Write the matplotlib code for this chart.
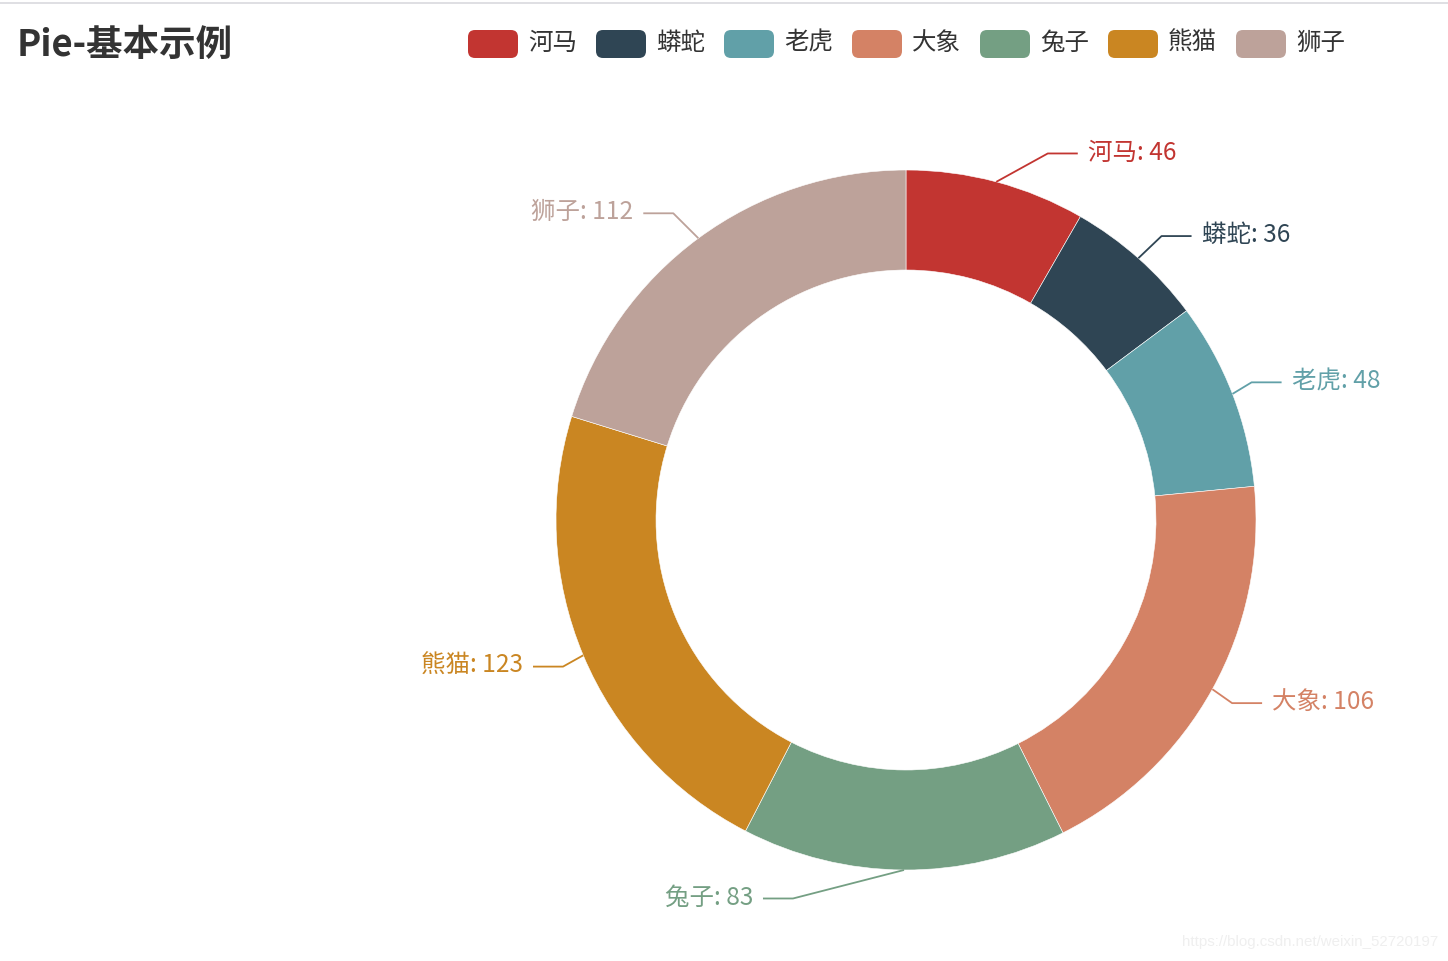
import matplotlib
matplotlib.use('Agg')
import matplotlib.pyplot as plt
import numpy as np
from matplotlib.patches import FancyBboxPatch

plt.rcParams['font.family'] = ['Noto Sans CJK SC', 'DejaVu Sans']

# ---- data ----
title = "Pie-基本示例"
categories = ["河马", "蟒蛇", "老虎", "大象", "兔子", "熊猫", "狮子"]
values = [46, 36, 48, 106, 83, 123, 112]
colors = ["#c23531", "#2f4554", "#61a0a8", "#d48265", "#749f83", "#ca8622", "#bda29a"]
watermark = "https://blog.csdn.net/weixin_52720197"

# ---- label layout (angle shift in degrees, elbow radius in px) ----
label_shift = [6.2, 0.4, -0.6, 0.4, 16.3, -0.4, -0.8]
label_radius = [393, 382, 372, 374, 395, 373, 385]

W, H = 1448, 961
fig = plt.figure(figsize=(W / 100, H / 100), dpi=100)
ax = fig.add_axes([0, 0, 1, 1])

cx, cy = 906, H - 520
R, ring = 350, 100
PX = 0.72  # px -> pt at dpi 100

ax.pie(values, colors=colors, startangle=90, counterclock=False,
       center=(cx, cy), radius=R,
       wedgeprops=dict(width=ring, linewidth=0.4, edgecolor='white'),
       frame=False)
ax.set_xlim(0, W)
ax.set_ylim(0, H)
ax.set_aspect('auto')
ax.axis('off')

total = float(sum(values))
mids = (np.cumsum(values) - np.array(values) / 2.0) / total * 360.0
for i, (cat, v) in enumerate(zip(categories, values)):
    a = np.radians(mids[i])
    sx, sy = cx + R * np.sin(a), cy + R * np.cos(a)
    b = np.radians(mids[i] + label_shift[i])
    ex, ey = cx + label_radius[i] * np.sin(b), cy + label_radius[i] * np.cos(b)
    d = 1 if ex > cx else -1
    hx = ex + d * 30
    ax.plot([sx, ex, hx], [sy, ey, ey], color=colors[i], lw=1.3,
            solid_capstyle='butt')
    ax.text(hx + d * 10, ey + 1, f"{cat}: {v}", ha='left' if d > 0 else 'right',
            va='center', color=colors[i], fontsize=24.5 * PX)

# legend
for i, cat in enumerate(categories):
    x0 = 468 + 128 * i
    rect = FancyBboxPatch((x0, H - 58), 50, 28,
                          boxstyle="round,pad=0,rounding_size=7",
                          facecolor=colors[i], edgecolor='none')
    ax.add_patch(rect)
    ax.text(x0 + 60, H - 43, cat, ha='left', va='center', color='#333333',
            fontsize=24.5 * PX)

# title
ax.text(17, H - 45, title, ha='left', va='center', color='#333333',
        fontsize=36.5 * PX, fontweight='bold')

# top border line
ax.plot([0, W], [H - 2.5, H - 2.5], color='#dcdce0', lw=1.3)

# watermark
ax.text(1438, H - 942, watermark, ha='right', va='center', color='#efefef',
        fontsize=15 * PX, family=['Liberation Sans', 'DejaVu Sans'])

fig.savefig('out.png', dpi=100)
